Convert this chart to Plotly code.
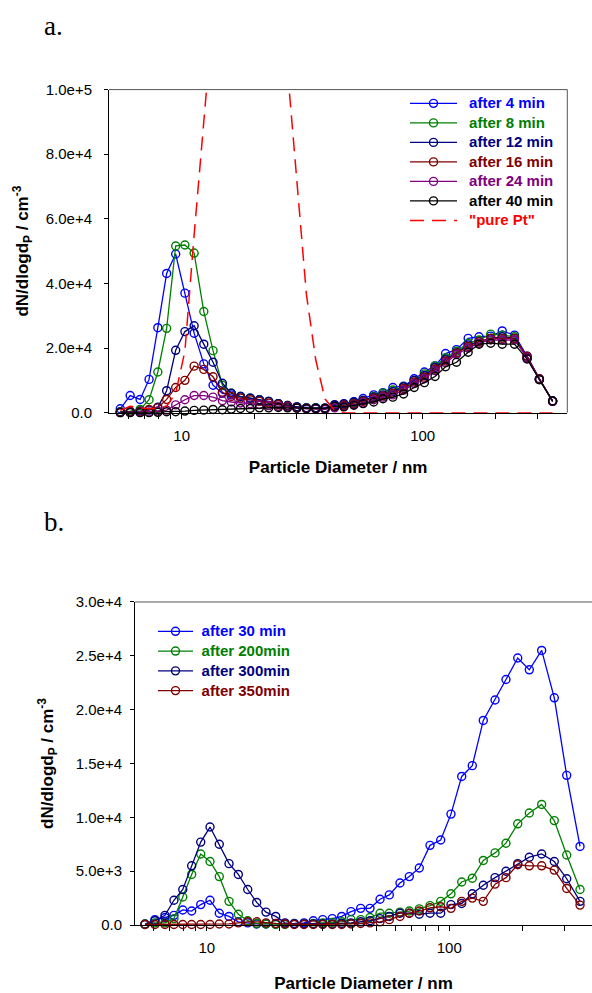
import plotly.graph_objects as go

# particle diameters (nm), shared by all size distributions
diam = [5.56, 6.11, 6.72, 7.32, 7.96, 8.66, 9.44, 10.31, 11.26, 12.35,
        13.49, 14.75, 16.06, 17.54, 19.24, 21.01, 22.95, 25.17, 27.49, 30.06,
        32.92, 36.00, 39.32, 43.11, 47.10, 51.80, 56.57, 62.61, 68.41, 75.20,
        83.27, 92.16, 101.6, 112.5, 124.4, 138.1, 154.4, 171.3, 191.5, 213.8,
        240.4, 271.0, 304.9, 346.0]

# panel a: dN/dlogdP (cm^-3)
a_4min = [1200, 5300, 4100, 10300, 26300, 43100, 49100, 37000, 24600, 15100,
          8500, 6000, 5500, 5000, 4500, 4000, 3500, 2800, 2000, 1800,
          1500, 1500, 1500, 2300, 2600, 3400, 4400, 5500, 6200, 7800,
          8200, 10500, 12600, 14500, 18300, 19500, 23000, 23500, 23700, 25300,
          24000, 17500, 10500, 3600]
a_8min = [300, 500, 1000, 4000, 12600, 26100, 51600, 51900, 49400, 31300,
          19200, 8500, 6000, 5000, 4500, 4000, 3500, 2800, 2200, 1800,
          1500, 1500, 1400, 2000, 2300, 3000, 3800, 5000, 6000, 7000,
          8000, 10000, 12000, 14500, 17000, 19000, 21500, 22500, 24300, 24000,
          23500, 17000, 10300, 3500]
a_12min = [200, 300, 500, 800, 1700, 6800, 19300, 25100, 26900, 21200,
           15600, 9100, 6000, 5000, 4500, 4000, 3500, 2800, 2200, 1800,
           1500, 1500, 1300, 2500, 2800, 3300, 3800, 4800, 5500, 6500,
           8000, 10000, 11500, 14000, 16500, 18500, 21000, 22000, 23000, 23500,
           23000, 17000, 10300, 3600]
a_16min = [100, 200, 300, 1000, 1500, 4100, 7800, 10000, 14400, 13400,
           11100, 6300, 5000, 4500, 4000, 3500, 3000, 2500, 2000, 1500,
           1300, 1200, 1200, 1800, 2300, 2800, 3500, 4500, 5200, 6000,
           7500, 9500, 11000, 13500, 16000, 18500, 20500, 22000, 23000, 23000,
           23000, 17500, 10500, 3500]
a_24min = [0, 100, 100, 200, 500, 800, 2400, 4000, 5300, 5300,
           4800, 3700, 3300, 3000, 2800, 2500, 2200, 2000, 1800, 1400,
           1200, 1100, 1000, 1500, 2000, 2500, 3000, 4000, 4800, 5500,
           7000, 9000, 10500, 13000, 15500, 18000, 20000, 21500, 22500, 22500,
           22500, 17000, 10300, 3500]
a_40min = [0, 0, 0, 0, 100, 300, 300, 500, 700, 800,
           1000, 900, 1100, 1300, 1300, 1500, 1500, 1600, 1500, 1400,
           1200, 1300, 1300, 2000, 1800, 2300, 2800, 3300, 4300, 4800,
           5800, 7800, 9300, 11200, 14200, 15600, 18700, 21200, 21500, 21200,
           21200, 16600, 10200, 3600]
a_pure_pt = [700, 2000, 1500, 1200, 1300, 2000, 6000, 19000, 55000, 98000,
             140000, 170000, 190000, 200000, 200000, 190000, 170000, 140000, 106000, 70000,
             36600, 16300, 4200, 700, 0, 0, 0, 0, 0, 0,
             0, 0, 0, 0, 0, 0, 0, 0, 0, 0,
             0, 0, 0, 0]

# panel b
b_30min = [100, 500, 700, 900, 1400, 1300, 1900, 2300, 1100, 800,
           300, 200, 100, 100, 100, 100, 150, 200, 400, 500,
           600, 800, 1250, 1550, 1550, 2400, 2800, 3900, 4500, 5300,
           7400, 7900, 10300, 13800, 14800, 19000, 20900, 22800, 24800, 23700,
           25500, 21100, 13900, 7300]
b_200min = [100, 200, 200, 600, 2600, 4700, 6600, 5900, 4500, 2200,
            1000, 400, 150, 100, 50, 50, 100, 100, 150, 200,
            250, 300, 500, 500, 700, 1100, 1100, 1200, 1300, 1500,
            1800, 2200, 2900, 4000, 4350, 6000, 6700, 7600, 9400, 10400,
            11200, 9700, 6500, 3300]
b_300min = [50, 400, 900, 2300, 3300, 5500, 7700, 9100, 7500, 5700,
            4700, 3300, 2100, 1200, 800, 200, 100, 100, 100, 100,
            100, 150, 200, 300, 400, 600, 800, 1100, 1100, 1000,
            1100, 1100, 1900, 2000, 2900, 3700, 4400, 5000, 5700, 6300,
            6600, 5900, 4300, 2200]
b_350min = [50, 50, 50, 50, 50, 50, 50, 50, 100, 100,
            200, 300, 300, 200, 150, 100, 50, 50, 50, 50,
            50, 50, 100, 150, 200, 300, 500, 800, 1100, 1300,
            1600, 1700, 1550, 2200, 2500, 2200, 3800, 4400, 5600, 5500,
            5500, 5100, 3400, 1850]

x_tickvals = [6, 7, 8, 9, 10, 20, 30, 40, 50, 60, 70, 80, 90, 100, 200, 300]
x_ticktext = ["", "", "", "", "10", "", "", "", "", "", "", "", "", "100", "", ""]
ya_tickvals = [0, 20000, 40000, 60000, 80000, 100000]
ya_ticktext = ["0.0", "2.0e+4", "4.0e+4", "6.0e+4", "8.0e+4", "1.0e+5"]
yb_tickvals = [0, 5000, 10000, 15000, 20000, 25000, 30000]
yb_ticktext = ["0.0", "5.0e+3", "1.0e+4", "1.5e+4", "2.0e+4", "2.5e+4", "3.0e+4"]

W, H = 592, 993
FONT = "Liberation Sans, Arial, sans-serif"
SERIF = "Liberation Serif, Times New Roman, serif"


def px_x(p):
    return min(p / W, 1.0)


def px_y(p):
    return 1 - p / H


def label(text, color, pad=2):
    return ("\u00a0" * pad +
            f'<span style="color:{color};font-size:15px"><b>{text}</b></span>')


fig = go.Figure()

series_a = [
    ("after 4 min", a_4min, "#0000FF"),
    ("after 8 min", a_8min, "#008000"),
    ("after 12 min", a_12min, "#000080"),
    ("after 16 min", a_16min, "#800000"),
    ("after 24 min", a_24min, "#800080"),
    ("after 40 min", a_40min, "#000000"),
]
for name, vals, col in series_a:
    fig.add_trace(go.Scatter(
        x=diam, y=vals, mode="lines+markers", name=label(name, col),
        line=dict(color=col, width=1.3),
        marker=dict(symbol="circle-open", size=8, color=col, line=dict(width=1.4)),
        cliponaxis=False, xaxis="x", yaxis="y", legend="legend"))

fig.add_trace(go.Scatter(
    x=diam, y=a_pure_pt, mode="lines", name=label('"pure Pt"', "#FF0000"),
    line=dict(color="#FF0000", width=1.5, dash="14px,8px"),
    xaxis="x", yaxis="y", legend="legend"))

series_b = [
    ("after 30 min", b_30min, "#0000FF"),
    ("after 200min", b_200min, "#008000"),
    ("after 300min", b_300min, "#000080"),
    ("after 350min", b_350min, "#800000"),
]
for name, vals, col in series_b:
    fig.add_trace(go.Scatter(
        x=diam, y=vals, mode="lines+markers", name=label(name, col, pad=1),
        line=dict(color=col, width=1.3),
        marker=dict(symbol="circle-open", size=8, color=col, line=dict(width=1.4)),
        cliponaxis=False, xaxis="x2", yaxis="y2", legend="legend2"))

ytitle = "<b>dN/dlogd<sub>P</sub> / cm<sup>-3</sup></b>"
xtitle = "<b>Particle Diameter / nm</b>"

common_x = dict(
    type="log", showline=True, linecolor="black", linewidth=1,
    ticks="outside", ticklen=5, tickcolor="black", showgrid=False, zeroline=False,
    tickvals=x_tickvals, ticktext=x_ticktext,
    tickfont=dict(family=FONT, size=15, color="black"),
    title=dict(text=xtitle, font=dict(family=FONT, size=17, color="black"), standoff=18),
)
common_y = dict(
    showline=True, linecolor="black", linewidth=1, ticks="outside", ticklen=4,
    tickcolor="black", showgrid=False, zeroline=False,
    tickfont=dict(family=FONT, size=15, color="black"),
)

fig.update_layout(
    width=W, height=H, margin=dict(l=0, r=0, t=0, b=0),
    paper_bgcolor="white", plot_bgcolor="white",
    xaxis=dict(common_x, domain=[px_x(109), px_x(567.3)],
               range=[0.6983, 2.600], anchor="y", ticklabelstandoff=4),
    yaxis=dict(common_y, domain=[px_y(410.7), px_y(82)], range=[0, 100000],
               anchor="x", tickvals=ya_tickvals, ticktext=ya_ticktext,
               ticklabelstandoff=9,
               title=dict(text=ytitle, font=dict(family=FONT, size=17, color="black"),
                          standoff=12)),
    # panel b runs past the right edge of the page, as in the original
    xaxis2=dict(common_x, domain=[px_x(135), px_x(592)],
                range=[0.7039, 2.5885], anchor="y2", ticklabelstandoff=4,
                title_standoff=22),
    yaxis2=dict(common_y, domain=[px_y(932), px_y(603.3)], range=[0, 30000],
                anchor="x2", tickvals=yb_tickvals, ticktext=yb_ticktext,
                ticklabelstandoff=5,
                title=dict(text=ytitle, font=dict(family=FONT, size=17, color="black"),
                           standoff=17)),
    legend=dict(x=px_x(405), y=px_y(81), xanchor="left", yanchor="top",
                bgcolor="rgba(0,0,0,0)", font=dict(family=FONT, size=12.7),
                tracegroupgap=0, itemwidth=47),
    legend2=dict(x=px_x(153), y=px_y(618), xanchor="left", yanchor="top",
                 bgcolor="rgba(0,0,0,0)", font=dict(family=FONT, size=12.9),
                 tracegroupgap=0, itemwidth=35),
    showlegend=True,
    shapes=[
        dict(type="line", xref="x domain", yref="y domain", x0=0, x1=1, y0=1, y1=1,
             line=dict(color="#555555", width=1), layer="below"),
        dict(type="line", xref="x domain", yref="y domain", x0=1, x1=1, y0=0, y1=1,
             line=dict(color="#555555", width=1), layer="below"),
        dict(type="line", xref="x2 domain", yref="y2 domain", x0=0, x1=1, y0=1, y1=1,
             line=dict(color="#555555", width=1), layer="below"),
    ],
    annotations=[
        dict(text="a.", x=px_x(42), y=1.0, xref="paper", yref="paper",
             xanchor="left", yanchor="top", showarrow=False,
             font=dict(family=SERIF, size=27, color="black")),
        dict(text="b.", x=px_x(42), y=px_y(522), xref="paper", yref="paper",
             xanchor="left", yanchor="middle", showarrow=False,
             font=dict(family=SERIF, size=27, color="black")),
    ],
)

# drop the browser's default 8px body margin so the figure fills the window
fig.write_html("out.html", config={"displayModeBar": False},
               post_script="document.body.style.margin='0px';")
